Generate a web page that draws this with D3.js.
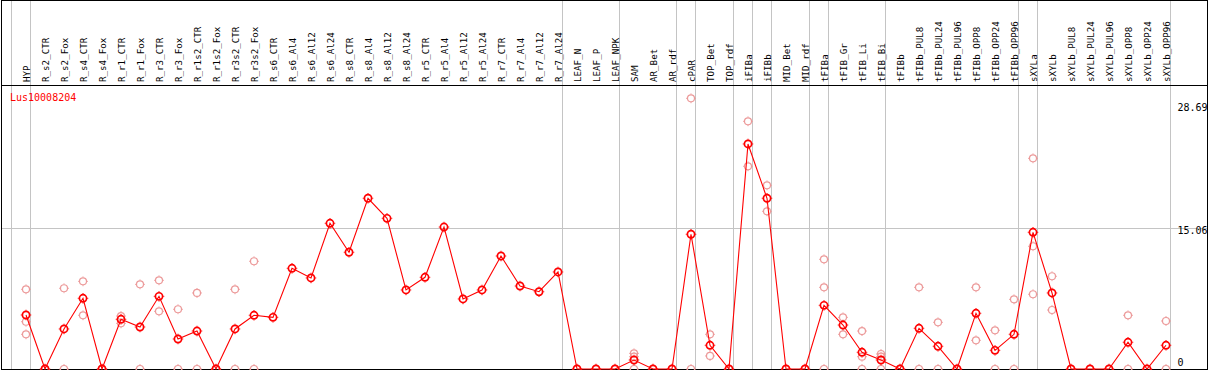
<!DOCTYPE html>
<html><head><meta charset="utf-8">
<script src="https://cdn.jsdelivr.net/npm/d3@7/dist/d3.min.js"></script>
<style>html,body{margin:0;padding:0;background:#fff;overflow:hidden}</style>
</head><body><svg id="c" width="1209" height="370"></svg>
<script>
const title = "Lus10008204";
const categories = ["HYP","R_s2_CTR","R_s2_Fox","R_s4_CTR","R_s4_Fox","R_r1_CTR","R_r1_Fox","R_r3_CTR","R_r3_Fox","R_r1s2_CTR","R_r1s2_Fox","R_r3s2_CTR","R_r3s2_Fox","R_s6_CTR","R_s6_Al4","R_s6_Al12","R_s6_Al24","R_s8_CTR","R_s8_Al4","R_s8_Al12","R_s8_Al24","R_r5_CTR","R_r5_Al4","R_r5_Al12","R_r5_Al24","R_r7_CTR","R_r7_Al4","R_r7_Al12","R_r7_Al24","LEAF_N","LEAF_P","LEAF_NPK","SAM","AR_Bet","AR_rdf","cPAR","TOP_Bet","TOP_rdf","iFIBa","iFIBb","MID_Bet","MID_rdf","tFIBa","tFIB_Gr","tFIB_Li","tFIB_Bi","tFIBb","tFIBb_PUL8","tFIBb_PUL24","tFIBb_PUL96","tFIBb_OPP8","tFIBb_OPP24","tFIBb_OPP96","sXYLa","sXYLb","sXYLb_PUL8","sXYLb_PUL24","sXYLb_PUL96","sXYLb_OPP8","sXYLb_OPP24","sXYLb_OPP96"];
const meanValues = [5.76,0,4.27,7.54,0,5.30,4.48,7.75,3.20,4.05,0,4.27,5.73,5.51,10.74,9.71,15.54,12.45,18.21,16.07,8.43,9.78,15.14,7.47,8.43,12.05,8.85,8.24,10.35,0,0,0,0.96,0,0,14.37,2.53,0,24.0,18.21,0,0,6.79,4.69,1.78,0.96,0,4.34,2.42,0,5.94,1.99,3.70,14.58,8.11,0,0,0,2.85,0,2.53];
const replicateValues = [[8.50,5.04,3.70],[0,0],[8.61,0],[9.35,5.73],[0,0],[5.65,4.87],[9.03,0],[9.46,6.15],[6.37,0],[8.11,0],[0,0],[8.50,0],[11.49,0],[],[],[],[],[],[],[],[],[],[],[],[],[],[],[],[],[0],[0],[0],[1.67,1.31,0],[0],[0],[28.87,0],[3.70,1.39],[0],[26.42,21.62],[19.59,16.82],[0],[0],[11.70,8.71,0],[5.51,3.70],[4.05,1.31,0],[1.60,1.31,0],[0],[8.71,0],[4.98,0],[0],[8.71,3.06],[4.13,0],[7.43,0],[22.47,13.09,7.97],[9.89,6.29],[0],[0],[0],[5.73,0],[0],[5.12,0]];
const yTicks = [28.69, 15.06, 0];
const gridValues = [15.06];
const separatorsAfter = ["HYP","R_r7_Al24","LEAF_NPK","AR_rdf","cPAR","TOP_rdf","iFIBa","iFIBb","MID_rdf","tFIBa","tFIB_Bi","tFIBb_OPP96","sXYLa","sXYLb_OPP96"];

const W = 1209, H = 370;
const padLeft = 1, padRight = 1207, padTop = 0, headerBottom = 85, plotBottom = 369;
const svg = d3.select("#c");
const x = d3.scalePoint().domain(categories).range([26, 26 + 19 * (categories.length - 1)]);
const step = x.step();
const y = d3.scaleLinear().domain([0, 28.69]).range([369, 100]);
const crisp = v => Math.floor(v) + 0.5;

// separators (gray vertical)
const sepX = [x(categories[0]) - step + 4.5].concat(separatorsAfter.map(c => x(c) + 4.5));
svg.append("g").attr("shape-rendering", "crispEdges").selectAll("line").data(sepX).join("line")
  .attr("x1", d => crisp(d)).attr("x2", d => crisp(d))
  .attr("y1", padTop).attr("y2", plotBottom)
  .attr("stroke", "#c4c4c4").attr("stroke-width", 1);

// horizontal grid
svg.append("g").attr("shape-rendering", "crispEdges").selectAll("line").data(gridValues).join("line")
  .attr("x1", padLeft).attr("x2", padRight)
  .attr("y1", d => Math.round(y(d)) + 0.5).attr("y2", d => Math.round(y(d)) + 0.5)
  .attr("stroke", "#c4c4c4").attr("stroke-width", 1);

// frame
const frame = svg.append("g").attr("stroke", "#000").attr("stroke-width", 1).attr("shape-rendering", "crispEdges");
frame.append("line").attr("x1", padLeft).attr("x2", padRight + 1).attr("y1", 0.5).attr("y2", 0.5);
frame.append("line").attr("x1", padLeft).attr("x2", padRight + 1).attr("y1", headerBottom + 0.5).attr("y2", headerBottom + 0.5);
frame.append("line").attr("x1", padLeft).attr("x2", padRight + 1).attr("y1", plotBottom + 0.5).attr("y2", plotBottom + 0.5);
frame.append("line").attr("x1", padLeft + 0.5).attr("x2", padLeft + 0.5).attr("y1", 0).attr("y2", H);
frame.append("line").attr("x1", padRight + 0.5).attr("x2", padRight + 0.5).attr("y1", 0).attr("y2", H);

// column labels
svg.append("g").selectAll("text").data(categories).join("text")
  .attr("transform", d => `translate(${x(d) + 3.5},82) rotate(-90)`)
  .attr("font-family", "DejaVu Sans Mono, monospace").attr("font-size", 9.2)
  .attr("fill", "#000").text(d => d);

// title
svg.append("text").attr("x", 10).attr("y", 101)
  .attr("font-family", "DejaVu Sans Mono, monospace").attr("font-size", 10)
  .attr("fill", "#ff0000").text(title);

// y tick labels
svg.append("g").selectAll("text").data(yTicks).join("text")
  .attr("x", 1177.5).attr("y", d => Math.max(111, Math.min(366, y(d) + 6)))
  .attr("font-family", "DejaVu Sans Mono, monospace").attr("font-size", 10)
  .attr("fill", "#000").text(d => d === 0 ? "0" : d.toFixed(2));

function marker(g, cx, cy, r, color, sw) {
  g.append("circle").attr("cx", cx).attr("cy", cy).attr("r", r)
    .attr("fill", "none").attr("stroke", color).attr("stroke-width", sw);
  const t = r + sw / 2;
  [[0,-1],[0,1],[-1,0],[1,0]].forEach(([dx,dy]) => {
    g.append("line").attr("x1", cx + dx * (t - 0.2)).attr("y1", cy + dy * (t - 0.2))
      .attr("x2", cx + dx * (t + 0.8)).attr("y2", cy + dy * (t + 0.8))
      .attr("stroke", color).attr("stroke-width", 1);
  });
}

// replicates
const repG = svg.append("g");
replicateValues.forEach((reps, i) => {
  reps.forEach(v => marker(repG, x(categories[i]), y(v), 3.5, "#ec9a9a", 1.2));
});

// mean line
const line = d3.line().x((d, i) => x(categories[i])).y(d => y(d));
svg.append("path").datum(meanValues).attr("d", line)
  .attr("fill", "none").attr("stroke", "#ff0000").attr("stroke-width", 1.1);

const meanG = svg.append("g");
meanValues.forEach((v, i) => marker(meanG, x(categories[i]), y(v), 3.6, "#ff0000", 1.7));
</script></body></html>
